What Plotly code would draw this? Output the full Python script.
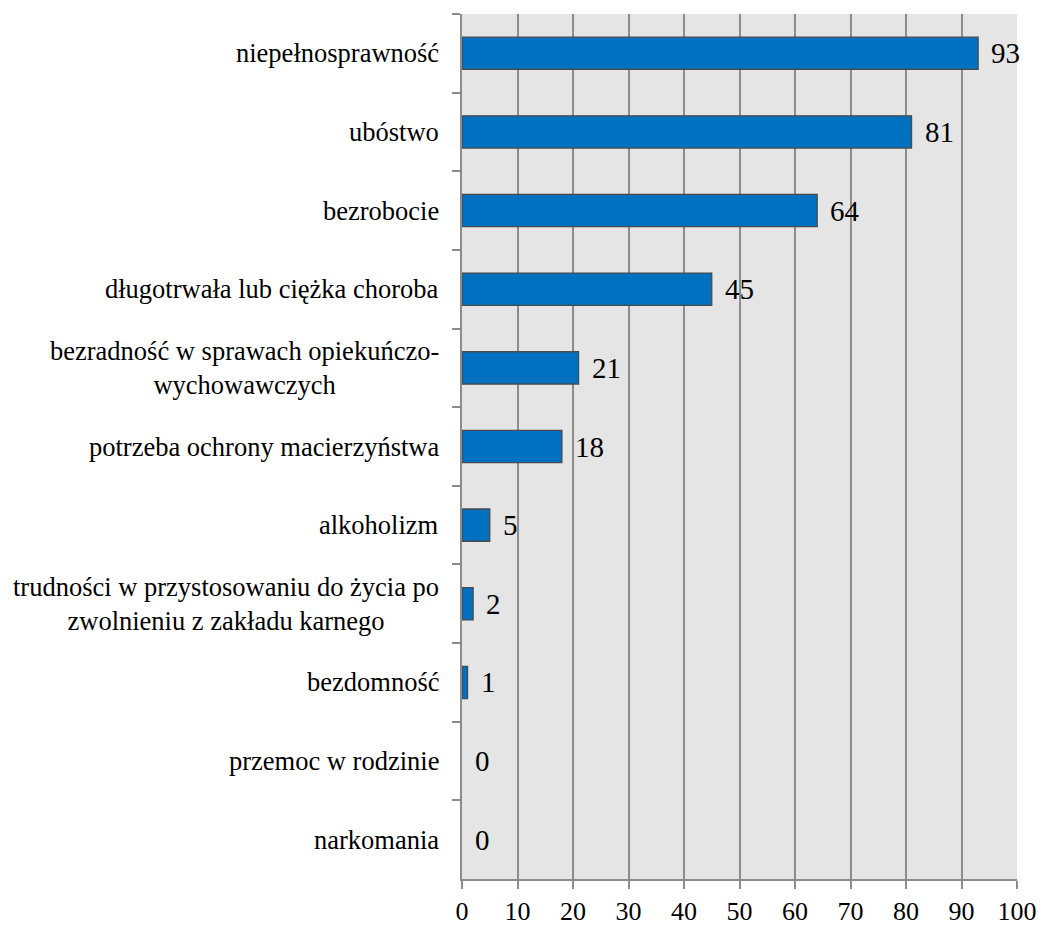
import plotly.graph_objects as go

categories = [
    "niepełnosprawność",
    "ubóstwo",
    "bezrobocie",
    "długotrwała lub ciężka choroba",
    "bezradność w sprawach opiekuńczo-<br>wychowawczych",
    "potrzeba ochrony macierzyństwa",
    "alkoholizm",
    "trudności w przystosowaniu do życia po<br>zwolnieniu z zakładu karnego",
    "bezdomność",
    "przemoc w rodzinie",
    "narkomania",
]
values = [93, 81, 64, 45, 21, 18, 5, 2, 1, 0, 0]
x_ticks = list(range(0, 101, 10))

FONT = "Liberation Serif, Times New Roman, serif"
GRID = "#8c8c8c"

fig = go.Figure()
fig.add_trace(go.Bar(
    x=values,
    y=categories,
    orientation="h",
    width=0.41,
    marker=dict(
        color="#0070c0",
        line=dict(color="#4a4a4a", width=[1.3 if v > 0 else 0 for v in values]),
    ),
    hoverinfo="skip",
))

annotations = []
for cat in categories:
    annotations.append(dict(
        x=0, xref="paper", y=cat, yref="y",
        text=cat, showarrow=False, align="center",
        xanchor="right", yanchor="middle",
        font=dict(family=FONT, size=26.5, color="black"),
        xshift=-21,
    ))
for cat, v in zip(categories, values):
    annotations.append(dict(
        x=v, xref="x", y=cat, yref="y",
        text=str(v), showarrow=False,
        xanchor="left", yanchor="middle",
        xshift=11,
        font=dict(family=FONT, size=29, color="black"),
    ))

fig.update_layout(
    width=1049, height=938,
    margin=dict(l=462, r=23, t=14, b=41),
    paper_bgcolor="white",
    plot_bgcolor="#e5e5e5",
    showlegend=False,
    font=dict(family=FONT, size=26, color="black"),
    annotations=annotations,
)
fig.update_xaxes(
    range=[0, 100], tickvals=x_ticks,
    showgrid=True, gridcolor=GRID, gridwidth=1.5,
    showline=True, linecolor=GRID, linewidth=1.5,
    ticks="outside", ticklen=8, tickwidth=1.5, tickcolor=GRID,
    tickfont=dict(family=FONT, size=26, color="black"),
    zeroline=False,
)
fig.update_yaxes(
    type="category", range=[10.5, -0.5],
    tickson="boundaries",
    showticklabels=False,
    showgrid=False,
    showline=True, linecolor=GRID, linewidth=1.5,
    ticks="outside", ticklen=8, tickwidth=1.5, tickcolor=GRID,
    zeroline=False,
)

fig.write_html(
    "out.html",
    config={"displayModeBar": False},
    post_script="document.body.style.margin='0';document.body.style.overflow='hidden';",
)
